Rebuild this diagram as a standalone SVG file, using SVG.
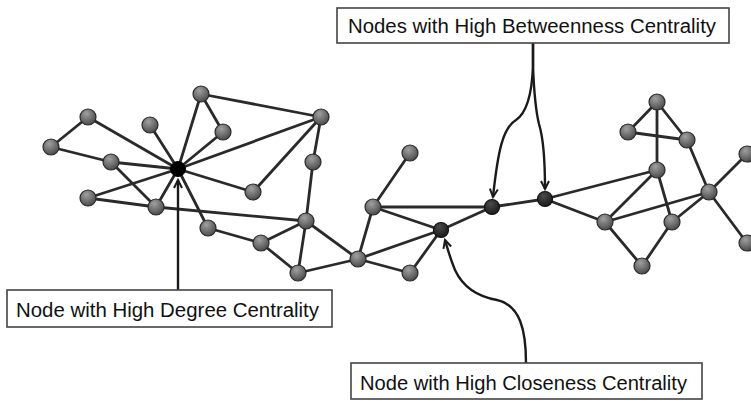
<svg xmlns="http://www.w3.org/2000/svg" width="751" height="401" viewBox="0 0 751 401">
<defs>
<radialGradient id="gn" cx="0.4" cy="0.3" r="0.75">
<stop offset="0" stop-color="#a0a0a0"/>
<stop offset="1" stop-color="#454545"/>
</radialGradient>
<radialGradient id="gd" cx="0.4" cy="0.3" r="0.75">
<stop offset="0" stop-color="#4a4a4a"/>
<stop offset="1" stop-color="#181818"/>
</radialGradient>
<marker id="ah" markerUnits="userSpaceOnUse" markerWidth="14" markerHeight="14" refX="9" refY="5" orient="auto">
<path d="M1,1 L9,5 L1,9" fill="none" stroke="#1a1a1a" stroke-width="2"/>
</marker>
</defs>
<style>
.e{stroke:#2a2a2a;stroke-width:2.8;fill:none;stroke-linecap:round}
.n{fill:url(#gn);stroke:#2a2a2a;stroke-width:1.2}
.d{fill:url(#gd);stroke:#111;stroke-width:1.2}
.h{fill:#000;stroke:#000;stroke-width:1}
.box{fill:#fff;stroke:#444;stroke-width:1.6}
.lbl{font-family:"Liberation Sans",Arial,sans-serif;font-size:20px;fill:#111}
.ar{stroke:#1a1a1a;stroke-width:2.4;fill:none;marker-end:url(#ah)}
</style>
<rect width="751" height="401" fill="#fff"/>
<g id="edges">
<line class="e" x1="88" y1="117" x2="51" y2="147"/>
<line class="e" x1="88" y1="117" x2="178" y2="169"/>
<line class="e" x1="51" y1="147" x2="111" y2="162"/>
<line class="e" x1="111" y1="162" x2="178" y2="169"/>
<line class="e" x1="150" y1="125" x2="178" y2="169"/>
<line class="e" x1="111" y1="162" x2="156" y2="207"/>
<line class="e" x1="88" y1="198" x2="178" y2="169"/>
<line class="e" x1="88" y1="198" x2="156" y2="207"/>
<line class="e" x1="156" y1="207" x2="306" y2="221"/>
<line class="e" x1="156" y1="207" x2="178" y2="169"/>
<line class="e" x1="201" y1="94" x2="178" y2="169"/>
<line class="e" x1="201" y1="94" x2="223" y2="132"/>
<line class="e" x1="223" y1="132" x2="178" y2="169"/>
<line class="e" x1="178" y1="169" x2="321" y2="117"/>
<line class="e" x1="178" y1="169" x2="253" y2="192"/>
<line class="e" x1="178" y1="169" x2="208" y2="228"/>
<line class="e" x1="208" y1="228" x2="261" y2="243"/>
<line class="e" x1="201" y1="94" x2="321" y2="117"/>
<line class="e" x1="321" y1="117" x2="313" y2="162"/>
<line class="e" x1="321" y1="117" x2="253" y2="192"/>
<line class="e" x1="313" y1="162" x2="306" y2="221"/>
<line class="e" x1="261" y1="243" x2="306" y2="221"/>
<line class="e" x1="261" y1="243" x2="298" y2="273"/>
<line class="e" x1="306" y1="221" x2="298" y2="273"/>
<line class="e" x1="306" y1="221" x2="358" y2="259"/>
<line class="e" x1="298" y1="273" x2="358" y2="259"/>
<line class="e" x1="358" y1="259" x2="373" y2="207"/>
<line class="e" x1="373" y1="207" x2="410" y2="153"/>
<line class="e" x1="373" y1="207" x2="441" y2="230"/>
<line class="e" x1="373" y1="207" x2="492" y2="207"/>
<line class="e" x1="358" y1="259" x2="441" y2="230"/>
<line class="e" x1="358" y1="259" x2="410" y2="273"/>
<line class="e" x1="410" y1="273" x2="441" y2="230"/>
<line class="e" x1="441" y1="230" x2="492" y2="207"/>
<line class="e" x1="492" y1="207" x2="545" y2="199"/>
<line class="e" x1="545" y1="199" x2="657" y2="170"/>
<line class="e" x1="545" y1="199" x2="605" y2="222"/>
<line class="e" x1="657" y1="102" x2="628" y2="132"/>
<line class="e" x1="657" y1="102" x2="657" y2="170"/>
<line class="e" x1="657" y1="102" x2="687" y2="140"/>
<line class="e" x1="628" y1="132" x2="687" y2="140"/>
<line class="e" x1="687" y1="140" x2="709" y2="192"/>
<line class="e" x1="657" y1="170" x2="605" y2="222"/>
<line class="e" x1="657" y1="170" x2="672" y2="222"/>
<line class="e" x1="605" y1="222" x2="709" y2="192"/>
<line class="e" x1="672" y1="222" x2="709" y2="192"/>
<line class="e" x1="709" y1="192" x2="747" y2="154"/>
<line class="e" x1="709" y1="192" x2="747" y2="243"/>
<line class="e" x1="605" y1="222" x2="642" y2="266"/>
<line class="e" x1="672" y1="222" x2="642" y2="266"/>
</g>
<g id="node-A"><circle class="n" cx="88" cy="117" r="8"/></g>
<g id="node-B"><circle class="n" cx="51" cy="147" r="8"/></g>
<g id="node-C"><circle class="n" cx="150" cy="125" r="8"/></g>
<g id="node-D"><circle class="n" cx="111" cy="162" r="8"/></g>
<g id="node-E"><circle class="n" cx="88" cy="198" r="8"/></g>
<g id="node-F"><circle class="n" cx="156" cy="207" r="8"/></g>
<g id="node-G"><circle class="n" cx="201" cy="94" r="8"/></g>
<g id="node-I"><circle class="n" cx="223" cy="132" r="8"/></g>
<g id="node-J"><circle class="n" cx="253" cy="192" r="8"/></g>
<g id="node-K"><circle class="n" cx="208" cy="228" r="8"/></g>
<g id="node-L"><circle class="n" cx="321" cy="117" r="8"/></g>
<g id="node-M"><circle class="n" cx="313" cy="162" r="8"/></g>
<g id="node-N"><circle class="n" cx="306" cy="221" r="8"/></g>
<g id="node-O"><circle class="n" cx="261" cy="243" r="8"/></g>
<g id="node-P"><circle class="n" cx="298" cy="273" r="8"/></g>
<g id="node-Q"><circle class="n" cx="358" cy="259" r="8"/></g>
<g id="node-R"><circle class="n" cx="410" cy="153" r="8"/></g>
<g id="node-S"><circle class="n" cx="373" cy="207" r="8"/></g>
<g id="node-T"><circle class="n" cx="410" cy="273" r="8"/></g>
<g id="node-X"><circle class="n" cx="657" cy="102" r="8"/></g>
<g id="node-Y"><circle class="n" cx="628" cy="132" r="8"/></g>
<g id="node-Z"><circle class="n" cx="687" cy="140" r="8"/></g>
<g id="node-AA"><circle class="n" cx="657" cy="170" r="8"/></g>
<g id="node-AB"><circle class="n" cx="709" cy="192" r="8"/></g>
<g id="node-AC"><circle class="n" cx="605" cy="222" r="8"/></g>
<g id="node-AD"><circle class="n" cx="672" cy="222" r="8"/></g>
<g id="node-AE"><circle class="n" cx="642" cy="266" r="8"/></g>
<g id="node-AF"><circle class="n" cx="747" cy="154" r="8"/></g>
<g id="node-AG"><circle class="n" cx="747" cy="243" r="8"/></g>
<g id="node-hub"><circle class="h" cx="178" cy="169" r="7.5"/></g>
<g id="node-U"><circle class="d" cx="441" cy="230" r="7.5"/></g>
<g id="node-V"><circle class="d" cx="492" cy="207" r="7.5"/></g>
<g id="node-W"><circle class="d" cx="545" cy="199" r="7.5"/></g>
<g id="arrows">
<path class="ar" d="M178,290 L178,180"/>
<path class="ar" d="M533,43 L533,66 C532,92 528,112 516,120 C503,128 498,150 493,197"/>
<path class="ar" d="M533,43 L533,66 C534,92 536,112 539,124 C544,140 545,160 545,189"/>
<path class="ar" d="M526,363 C526,330 520,305 497,300 C474,296 462,285 455,270 C450,258 448,250 445,240"/>
</g>
<g id="label-betweenness">
<rect class="box" x="337" y="8" width="392" height="35"/>
<text class="lbl" x="348" y="33" textLength="368" lengthAdjust="spacingAndGlyphs">Nodes with High Betweenness Centrality</text>
</g>
<g id="label-degree">
<rect class="box" x="7" y="290" width="325" height="37"/>
<text class="lbl" x="16" y="317" textLength="303" lengthAdjust="spacingAndGlyphs">Node with High Degree Centrality</text>
</g>
<g id="label-closeness">
<rect class="box" x="351" y="363" width="351" height="36"/>
<text class="lbl" x="360" y="390" textLength="327" lengthAdjust="spacingAndGlyphs">Node with High Closeness Centrality</text>
</g>
</svg>
